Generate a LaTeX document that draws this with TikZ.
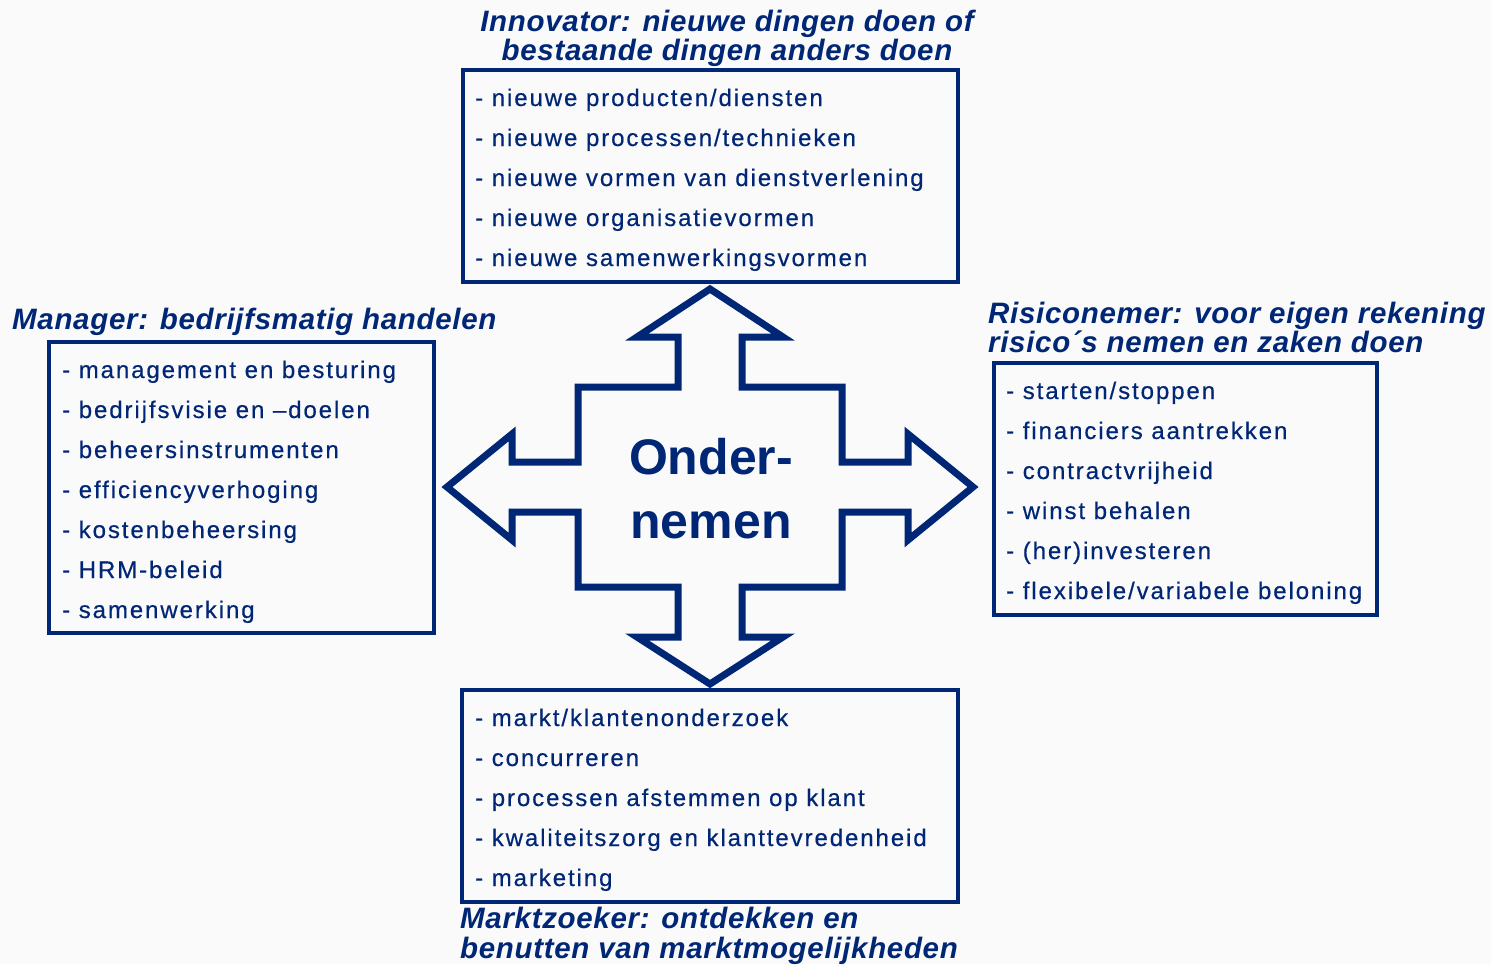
\documentclass[tikz,border=0pt]{standalone}
\usepackage{fontspec}
\setmainfont{Liberation Sans}
\newfontfamily\bodyfont[LetterSpace=8,FakeBold=0.5]{Liberation Sans}
\newfontfamily\headfont[LetterSpace=2.3]{Liberation Sans}
\definecolor{ondblue}{RGB}{0,38,118}
\definecolor{pagebg}{RGB}{250,250,251}
\tikzset{
  listbox/.style={draw=ondblue, line width=3.5pt, inner sep=0pt},
  item/.style={anchor=base west, inner sep=0pt, text=ondblue, font=\bodyfont\fontsize{24}{28}\selectfont},
  headline/.style={inner sep=0pt, text=ondblue, font=\headfont\bfseries\itshape\fontsize{29.5}{30}\selectfont},
  bigword/.style={anchor=base, inner sep=0pt, text=ondblue, font=\bfseries\fontsize{50}{60}\selectfont},
  crossarrow/.style={draw=ondblue, line width=7pt, line join=miter, miter limit=10},
}
\begin{document}
\begin{tikzpicture}[x=1pt,y=-1pt]
\fill[pagebg] (0,0) rectangle (1491,964);
\useasboundingbox (0,0) rectangle (1491,964);

% boxes
\node[listbox, minimum width=495, minimum height=212] (topbox) at (710.5,176) {};
\node[listbox, minimum width=385, minimum height=291] (leftbox) at (241.5,487.5) {};
\node[listbox, minimum width=383, minimum height=252] (rightbox) at (1185.5,489) {};
\node[listbox, minimum width=496, minimum height=212] (bottombox) at (710,796) {};

% central cross arrow
\coordinate (core) at (710,487);
\begin{scope}[shift={(core)}]
\draw[crossarrow] (0,-198) -- (73,-150) -- (32,-150) -- (32,-100) -- (132,-100) -- (132,-25)
  -- (198,-25) -- (198,-53) -- (263,0) -- (198,53) -- (198,25) -- (132,25) -- (132,100)
  -- (32,100) -- (32,150) -- (73,150) -- (0,197) -- (-73,150) -- (-32,150) -- (-32,100)
  -- (-132,100) -- (-132,25) -- (-198,25) -- (-198,53) -- (-263,0) -- (-198,-53) -- (-198,-25)
  -- (-132,-25) -- (-132,-100) -- (-32,-100) -- (-32,-150) -- (-73,-150) -- cycle;
\end{scope}
\node[bigword] (w1) at (711,474) {Onder-};
\node[bigword] (w2) at (711,538) {nemen};

% titles
\node[headline, anchor=base] (t1a) at (727,31) {Innovator: nieuwe dingen doen of};
\node[headline, anchor=base] (t1b) at (727,60) {bestaande dingen anders doen};
\node[headline, anchor=base west] (t2a) at (12,329) {Manager: bedrijfsmatig handelen};
\node[headline, anchor=base west] (t3a) at (988,323) {Risiconemer: voor eigen rekening};
\node[headline, anchor=base west] (t3b) at (988,352) {risico´s nemen en zaken doen};
\node[headline, anchor=base west] (t4a) at (460,928) {Marktzoeker: ontdekken en};
\node[headline, anchor=base west] (t4b) at (460,958) {benutten van marktmogelijkheden};

% list items
\foreach \t [count=\i] in {nieuwe producten/diensten, nieuwe processen/technieken,
  nieuwe vormen van dienstverlening, nieuwe organisatievormen, nieuwe samenwerkingsvormen}
  \node[item] (top-\i) at (475,{106+40*(\i-1)}) {- \t};
\foreach \t [count=\i] in {management en besturing, bedrijfsvisie en –doelen,
  beheersinstrumenten, efficiencyverhoging, kostenbeheersing, HRM-beleid, samenwerking}
  \node[item] (left-\i) at (62,{378+40*(\i-1)}) {- \t};
\foreach \t [count=\i] in {starten/stoppen, financiers aantrekken, contractvrijheid,
  winst behalen, (her)investeren, flexibele/variabele beloning}
  \node[item] (right-\i) at (1006,{399+40*(\i-1)}) {- \t};
\foreach \t [count=\i] in {markt/klantenonderzoek, concurreren, processen afstemmen op klant,
  kwaliteitszorg en klanttevredenheid, marketing}
  \node[item] (bot-\i) at (475,{726+40*(\i-1)}) {- \t};
\end{tikzpicture}
\end{document}
